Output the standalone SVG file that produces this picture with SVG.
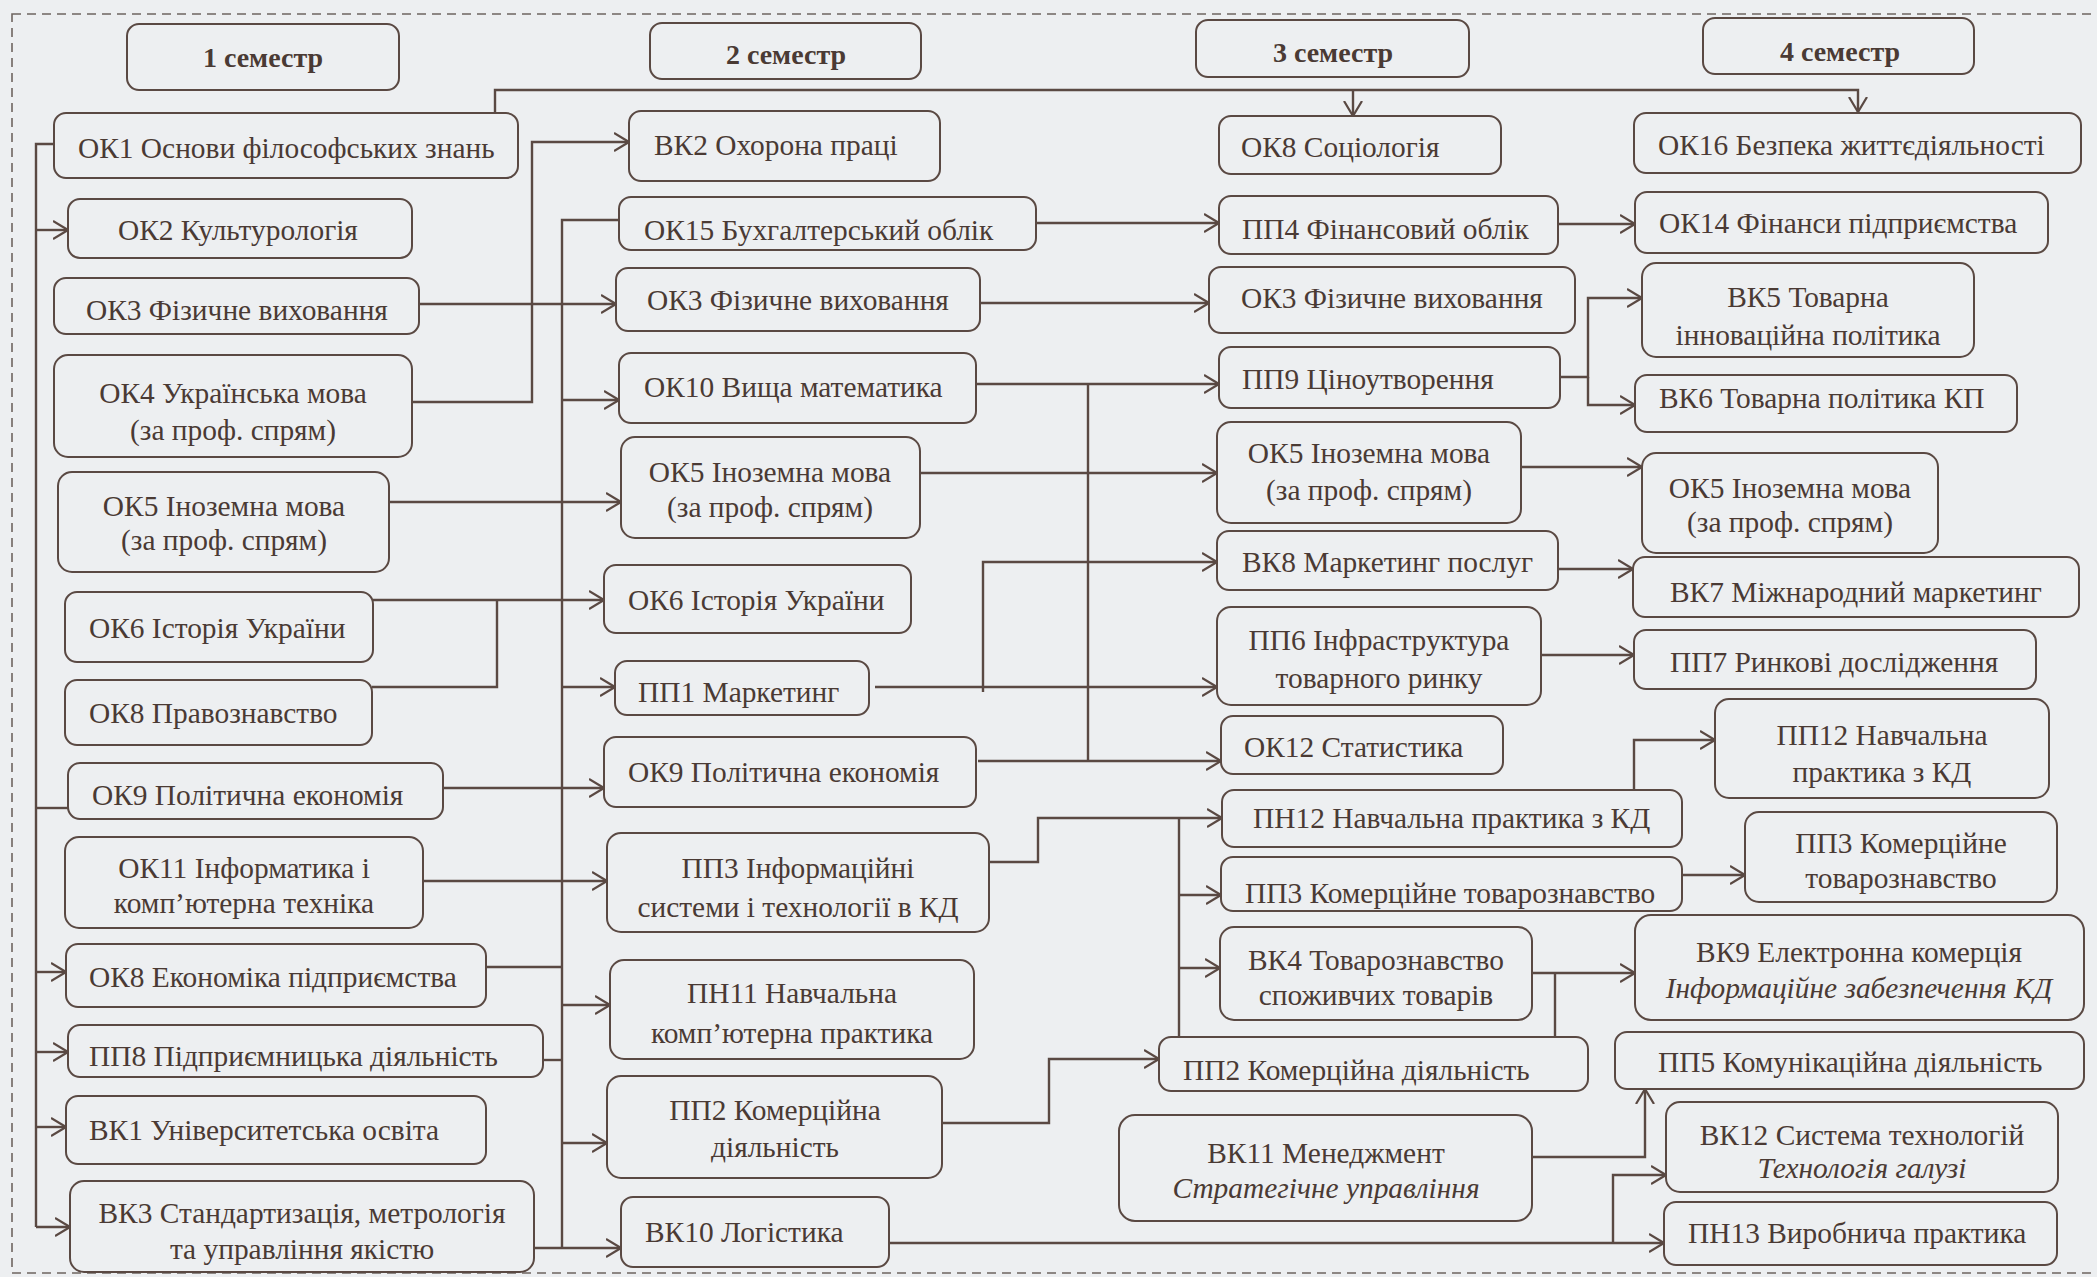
<svg xmlns="http://www.w3.org/2000/svg" width="2097" height="1277" viewBox="0 0 2097 1277">
<style>
.bx{fill:none;stroke:#5a4943;stroke-width:2}
.t{font-family:"Liberation Serif","Times New Roman",serif;font-size:29.4px;fill:#4a3a34}
.c{text-anchor:middle}
.b{font-weight:bold;font-size:28px}
.i{font-style:italic}
.ln{fill:none;stroke:#5a4943;stroke-width:2.4}
.a{marker-end:url(#ar)}
</style>
<defs>
<marker id="ar" viewBox="0 0 16 20" refX="15" refY="10" markerWidth="16" markerHeight="20" markerUnits="userSpaceOnUse" orient="auto">
<path d="M0,1 L15,10 L0,19" fill="none" stroke="#5a4943" stroke-width="2.2"/>
</marker>
</defs>
<rect x="0" y="0" width="2097" height="1277" fill="#edeff1"/>
<rect x="12" y="14" width="2120" height="1259" fill="none" stroke="#6e6560" stroke-width="1.6" stroke-dasharray="9,6"/>

<g id="connectors">
<path class="ln" d="M54,144 H36 V1227"/>
<path class="ln a" d="M36,230 H68"/>
<path class="ln" d="M36,808 H68"/>
<path class="ln a" d="M36,972 H66"/>
<path class="ln a" d="M36,1052 H68"/>
<path class="ln a" d="M36,1127 H66"/>
<path class="ln a" d="M36,1227 H70"/>
<path class="ln a" d="M495,113 V90 H1858 V112"/>
<path class="ln a" d="M1353,90 V116"/>
<path class="ln a" d="M412,402 H532 V142 H629"/>
<path class="ln a" d="M419,304 H616"/>
<path class="ln a" d="M389,502 H621"/>
<path class="ln a" d="M373,600 H604"/>
<path class="ln" d="M372,687 H497 V600"/>
<path class="ln a" d="M443,788 H604"/>
<path class="ln a" d="M423,881 H607"/>
<path class="ln" d="M619,220 H562 V1248"/>
<path class="ln a" d="M562,400 H619"/>
<path class="ln a" d="M562,687 H615"/>
<path class="ln a" d="M562,1005 H610"/>
<path class="ln a" d="M562,1143 H607"/>
<path class="ln a" d="M534,1248 H621"/>
<path class="ln" d="M486,967 H562"/>
<path class="ln" d="M543,1060 H562"/>
<path class="ln a" d="M1036,223 H1219"/>
<path class="ln a" d="M980,303 H1209"/>
<path class="ln a" d="M976,384 H1219"/>
<path class="ln" d="M1088,384 V761"/>
<path class="ln a" d="M978,761 H1221"/>
<path class="ln a" d="M920,473 H1217"/>
<path class="ln a" d="M875,687 H1217"/>
<path class="ln a" d="M983,692 V562 H1217"/>
<path class="ln a" d="M989,862 H1038 V818 H1222"/>
<path class="ln a" d="M942,1123 H1049 V1059 H1159"/>
<path class="ln" d="M1179,1037 V818"/>
<path class="ln a" d="M1179,895 H1221"/>
<path class="ln a" d="M1179,968 H1220"/>
<path class="ln a" d="M889,1243 H1664"/>
<path class="ln a" d="M1613,1243 V1175 H1666"/>
<path class="ln a" d="M1532,1157 H1645 V1089"/>
<path class="ln a" d="M1558,224 H1635"/>
<path class="ln a" d="M1560,377 H1588 V298 H1642"/>
<path class="ln a" d="M1588,377 V405 H1635"/>
<path class="ln a" d="M1521,467 H1642"/>
<path class="ln a" d="M1558,569 H1633"/>
<path class="ln a" d="M1541,655 H1634"/>
<path class="ln a" d="M1634,790 V740 H1715"/>
<path class="ln a" d="M1682,875 H1745"/>
<path class="ln a" d="M1532,973 H1635"/>
<path class="ln" d="M1555,973 V1037"/>
</g>

<g id="s1"><rect class="bx" x="127" y="24" width="272" height="66" rx="12"/><text class="t c b" x="263" y="67">1 семестр</text></g>
<g id="s2"><rect class="bx" x="650" y="23" width="271" height="56" rx="12"/><text class="t c b" x="786" y="64">2 семестр</text></g>
<g id="s3"><rect class="bx" x="1196" y="20" width="273" height="57" rx="12"/><text class="t c b" x="1333" y="62">3 семестр</text></g>
<g id="s4"><rect class="bx" x="1703" y="18" width="271" height="56" rx="12"/><text class="t c b" x="1840" y="61">4 семестр</text></g>

<g id="ok1"><rect class="bx" x="54" y="113" width="464" height="65" rx="12"/><text class="t" x="78" y="158">ОК1 Основи філософських знань</text></g>
<g id="ok2"><rect class="bx" x="68" y="199" width="344" height="59" rx="12"/><text class="t" x="118" y="240">ОК2 Культурологія</text></g>
<g id="ok3a"><rect class="bx" x="54" y="278" width="365" height="56" rx="12"/><text class="t" x="86" y="320">ОК3 Фізичне виховання</text></g>
<g id="ok4"><rect class="bx" x="54" y="355" width="358" height="102" rx="14"/><text class="t c" x="233" y="403">ОК4 Українська мова</text><text class="t c" x="233" y="440">(за проф. спрям)</text></g>
<g id="ok5a"><rect class="bx" x="58" y="472" width="331" height="100" rx="14"/><text class="t c" x="224" y="516">ОК5 Іноземна мова</text><text class="t c" x="224" y="550">(за проф. спрям)</text></g>
<g id="ok6a"><rect class="bx" x="65" y="592" width="308" height="70" rx="12"/><text class="t" x="89" y="638">ОК6 Історія України</text></g>
<g id="ok8p"><rect class="bx" x="65" y="680" width="307" height="65" rx="12"/><text class="t" x="89" y="723">ОК8 Правознавство</text></g>
<g id="ok9a"><rect class="bx" x="68" y="763" width="375" height="56" rx="12"/><text class="t" x="92" y="805">ОК9 Політична економія</text></g>
<g id="ok11"><rect class="bx" x="65" y="837" width="358" height="91" rx="14"/><text class="t c" x="244" y="878">ОК11 Інформатика і</text><text class="t c" x="244" y="913">комп’ютерна техніка</text></g>
<g id="ok8e"><rect class="bx" x="66" y="944" width="420" height="63" rx="12"/><text class="t" x="89" y="987">ОК8 Економіка підприємства</text></g>
<g id="pp8"><rect class="bx" x="68" y="1025" width="475" height="52" rx="12"/><text class="t" x="89" y="1066">ПП8 Підприємницька діяльність</text></g>
<g id="vk1"><rect class="bx" x="66" y="1096" width="420" height="68" rx="12"/><text class="t" x="89" y="1140">ВК1 Університетська освіта</text></g>
<g id="vk3"><rect class="bx" x="70" y="1181" width="464" height="91" rx="14"/><text class="t c" x="302" y="1223">ВК3 Стандартизація, метрологія</text><text class="t c" x="302" y="1259">та управління якістю</text></g>

<g id="vk2"><rect class="bx" x="629" y="111" width="311" height="70" rx="12"/><text class="t" x="654" y="155">ВК2 Охорона праці</text></g>
<g id="ok15"><rect class="bx" x="619" y="197" width="417" height="53" rx="12"/><text class="t" x="644" y="240">ОК15 Бухгалтерський облік</text></g>
<g id="ok3b"><rect class="bx" x="616" y="268" width="364" height="63" rx="12"/><text class="t" x="647" y="310">ОК3 Фізичне виховання</text></g>
<g id="ok10"><rect class="bx" x="619" y="353" width="357" height="70" rx="12"/><text class="t" x="644" y="397">ОК10 Вища математика</text></g>
<g id="ok5b"><rect class="bx" x="621" y="437" width="299" height="101" rx="14"/><text class="t c" x="770" y="482">ОК5 Іноземна мова</text><text class="t c" x="770" y="517">(за проф. спрям)</text></g>
<g id="ok6b"><rect class="bx" x="604" y="565" width="307" height="68" rx="12"/><text class="t" x="628" y="610">ОК6 Історія України</text></g>
<g id="pp1"><rect class="bx" x="615" y="661" width="254" height="54" rx="12"/><text class="t" x="638" y="702">ПП1 Маркетинг</text></g>
<g id="ok9b"><rect class="bx" x="604" y="737" width="372" height="70" rx="12"/><text class="t" x="628" y="782">ОК9 Політична економія</text></g>
<g id="pp3i"><rect class="bx" x="607" y="833" width="382" height="99" rx="14"/><text class="t c" x="798" y="878">ПП3 Інформаційні</text><text class="t c" x="798" y="917">системи і технології в КД</text></g>
<g id="pn11"><rect class="bx" x="610" y="960" width="364" height="99" rx="14"/><text class="t c" x="792" y="1003">ПН11 Навчальна</text><text class="t c" x="792" y="1043">комп’ютерна практика</text></g>
<g id="pp2b"><rect class="bx" x="607" y="1076" width="335" height="102" rx="14"/><text class="t c" x="775" y="1120">ПП2 Комерційна</text><text class="t c" x="775" y="1157">діяльність</text></g>
<g id="vk10"><rect class="bx" x="621" y="1197" width="268" height="70" rx="12"/><text class="t" x="645" y="1242">ВК10 Логістика</text></g>

<g id="ok8s"><rect class="bx" x="1219" y="116" width="282" height="58" rx="12"/><text class="t" x="1241" y="157">ОК8 Соціологія</text></g>
<g id="pp4"><rect class="bx" x="1219" y="196" width="339" height="58" rx="12"/><text class="t" x="1242" y="239">ПП4 Фінансовий облік</text></g>
<g id="ok3c"><rect class="bx" x="1209" y="267" width="366" height="66" rx="12"/><text class="t" x="1241" y="308">ОК3 Фізичне виховання</text></g>
<g id="pp9"><rect class="bx" x="1219" y="347" width="341" height="61" rx="12"/><text class="t" x="1242" y="389">ПП9 Ціноутворення</text></g>
<g id="ok5c"><rect class="bx" x="1217" y="422" width="304" height="101" rx="14"/><text class="t c" x="1369" y="463">ОК5 Іноземна мова</text><text class="t c" x="1369" y="500">(за проф. спрям)</text></g>
<g id="vk8"><rect class="bx" x="1217" y="531" width="341" height="59" rx="12"/><text class="t" x="1242" y="572">ВК8 Маркетинг послуг</text></g>
<g id="pp6"><rect class="bx" x="1217" y="607" width="324" height="98" rx="14"/><text class="t c" x="1379" y="650">ПП6 Інфраструктура</text><text class="t c" x="1379" y="688">товарного ринку</text></g>
<g id="ok12"><rect class="bx" x="1221" y="716" width="282" height="58" rx="12"/><text class="t" x="1244" y="757">ОК12 Статистика</text></g>
<g id="pn12"><rect class="bx" x="1222" y="790" width="460" height="57" rx="12"/><text class="t" x="1253" y="828">ПН12 Навчальна практика з КД</text></g>
<g id="pp3c"><rect class="bx" x="1221" y="857" width="461" height="54" rx="12"/><text class="t" x="1245" y="903">ПП3 Комерційне товарознавство</text></g>
<g id="vk4"><rect class="bx" x="1220" y="927" width="312" height="93" rx="14"/><text class="t c" x="1376" y="970">ВК4 Товарознавство</text><text class="t c" x="1376" y="1005">споживчих товарів</text></g>
<g id="pp2c"><rect class="bx" x="1159" y="1037" width="429" height="54" rx="12"/><text class="t" x="1183" y="1080">ПП2 Комерційна діяльність</text></g>
<g id="vk11"><rect class="bx" x="1119" y="1115" width="413" height="106" rx="16"/><text class="t c" x="1326" y="1163">ВК11 Менеджмент</text><text class="t c i" x="1326" y="1198">Стратегічне управління</text></g>

<g id="ok16"><rect class="bx" x="1634" y="113" width="447" height="60" rx="12"/><text class="t" x="1658" y="155">ОК16 Безпека життєдіяльності</text></g>
<g id="ok14"><rect class="bx" x="1635" y="192" width="413" height="61" rx="12"/><text class="t" x="1659" y="233">ОК14 Фінанси підприємства</text></g>
<g id="vk5"><rect class="bx" x="1642" y="263" width="332" height="94" rx="14"/><text class="t c" x="1808" y="307">ВК5 Товарна</text><text class="t c" x="1808" y="345">інноваційна політика</text></g>
<g id="vk6"><rect class="bx" x="1635" y="375" width="382" height="57" rx="12"/><text class="t" x="1659" y="408">ВК6 Товарна політика КП</text></g>
<g id="ok5d"><rect class="bx" x="1642" y="453" width="296" height="100" rx="14"/><text class="t c" x="1790" y="498">ОК5 Іноземна мова</text><text class="t c" x="1790" y="532">(за проф. спрям)</text></g>
<g id="vk7"><rect class="bx" x="1633" y="557" width="446" height="60" rx="12"/><text class="t" x="1670" y="602">ВК7 Міжнародний маркетинг</text></g>
<g id="pp7"><rect class="bx" x="1634" y="630" width="402" height="59" rx="12"/><text class="t" x="1670" y="672">ПП7 Ринкові дослідження</text></g>
<g id="pp12"><rect class="bx" x="1715" y="699" width="334" height="99" rx="14"/><text class="t c" x="1882" y="745">ПП12 Навчальна</text><text class="t c" x="1882" y="782">практика з КД</text></g>
<g id="pp3d"><rect class="bx" x="1745" y="812" width="312" height="90" rx="14"/><text class="t c" x="1901" y="853">ПП3 Комерційне</text><text class="t c" x="1901" y="888">товарознавство</text></g>
<g id="vk9"><rect class="bx" x="1635" y="915" width="449" height="105" rx="16"/><text class="t c" x="1859" y="962">ВК9 Електронна комерція</text><text class="t c i" x="1859" y="998">Інформаційне забезпечення КД</text></g>
<g id="pp5"><rect class="bx" x="1615" y="1032" width="469" height="57" rx="12"/><text class="t" x="1658" y="1072">ПП5 Комунікаційна діяльність</text></g>
<g id="vk12"><rect class="bx" x="1666" y="1102" width="392" height="90" rx="14"/><text class="t c" x="1862" y="1145">ВК12 Система технологій</text><text class="t c i" x="1862" y="1178">Технологія галузі</text></g>
<g id="pn13"><rect class="bx" x="1664" y="1202" width="393" height="63" rx="12"/><text class="t" x="1688" y="1243">ПН13 Виробнича практика</text></g>
</svg>
